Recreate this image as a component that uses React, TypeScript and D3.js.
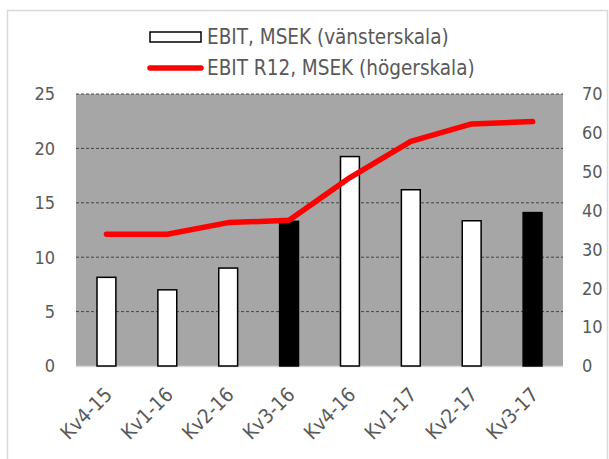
import React from "react";
import * as d3 from "d3";

const categories = ["Kv4-15", "Kv1-16", "Kv2-16", "Kv3-16", "Kv4-16", "Kv1-17", "Kv2-17", "Kv3-17"];
const ebit = [8.15, 7.0, 9.0, 13.3, 19.25, 16.2, 13.35, 14.1];
const highlighted = [false, false, false, true, false, false, false, true];
const ebitR12 = [33.9, 33.9, 36.9, 37.5, 48.5, 57.8, 62.3, 62.9];
const leftTicks = [0, 5, 10, 15, 20, 25];
const rightTicks = [0, 10, 20, 30, 40, 50, 60, 70];
const legendLabels = ["EBIT, MSEK (vänsterskala)", "EBIT R12, MSEK (högerskala)"];

const W = 609;
const H = 459;
const plot = { left: 76, right: 563, top: 94, bottom: 366 };
const FONT = "'DejaVu Sans Condensed', 'DejaVu Sans', sans-serif";
const TXT = "#595959";

export default function App() {
  const x = d3.scaleBand<string>().domain(categories).range([plot.left, plot.right]).paddingInner(0.69).paddingOuter(0.345);
  const yL = d3.scaleLinear().domain([0, 25]).range([plot.bottom, plot.top]);
  const yR = d3.scaleLinear().domain([0, 70]).range([plot.bottom, plot.top]);
  const cx = (c: string) => (x(c) as number) + x.bandwidth() / 2;
  const line = d3.line<number>().x((_, i) => cx(categories[i])).y((v) => yR(v));

  return (
    <svg width={W} height={H} style={{ position: "absolute", left: 0, top: 0 }} fontFamily={FONT}>
      <rect x={0} y={0} width={W} height={H} fill="#fff" />
      <rect x={7.5} y={10.5} width={600} height={460} fill="#fff" stroke="#d9d9d9" strokeWidth={1.5} />
      <rect x={plot.left} y={plot.top} width={plot.right - plot.left} height={plot.bottom - plot.top} fill="#a6a6a6" />
      {leftTicks.filter((t) => t > 0).map((t) => (
        <line key={t} x1={plot.left} x2={plot.right} y1={yL(t)} y2={yL(t)} stroke="#3a3a3a" strokeWidth={0.9} strokeDasharray="3,2" />
      ))}
      <line x1={plot.left} x2={plot.right} y1={plot.bottom + 0.5} y2={plot.bottom + 0.5} stroke="#d9d9d9" strokeWidth={1.5} />
      {categories.map((c, i) => (
        <rect key={c} x={x(c)} y={yL(ebit[i])} width={x.bandwidth()} height={plot.bottom - yL(ebit[i])}
          fill={highlighted[i] ? "#000" : "#fff"} stroke="#000" strokeWidth={1.5} />
      ))}
      <path d={line(ebitR12) || ""} fill="none" stroke="#ff0000" strokeWidth={5.5} strokeLinejoin="round" strokeLinecap="round" />
      {leftTicks.map((t) => (
        <text key={t} x={55} y={yL(t)} dy="0.35em" textAnchor="end" fontSize={18} fill={TXT}>{t}</text>
      ))}
      {rightTicks.map((t) => (
        <text key={t} x={582} y={yR(t)} dy="0.35em" textAnchor="start" fontSize={18} fill={TXT}>{t}</text>
      ))}
      {categories.map((c) => (
        <text key={c} transform={`translate(${cx(c) + 2},${391}) rotate(-45)`} textAnchor="end" dy="0.35em" fontSize={20} fill={TXT}>{c}</text>
      ))}
      <rect x={150} y={32} width={51} height={10} fill="#fff" stroke="#000" strokeWidth={1.5} />
      <text x={207} y={37} dy="0.35em" fontSize={20.5} fill={TXT}>{legendLabels[0]}</text>
      <line x1={150} x2={201} y1={68} y2={68} stroke="#ff0000" strokeWidth={5.5} strokeLinecap="round" />
      <text x={207} y={68} dy="0.35em" fontSize={20.5} fill={TXT}>{legendLabels[1]}</text>
    </svg>
  );
}
